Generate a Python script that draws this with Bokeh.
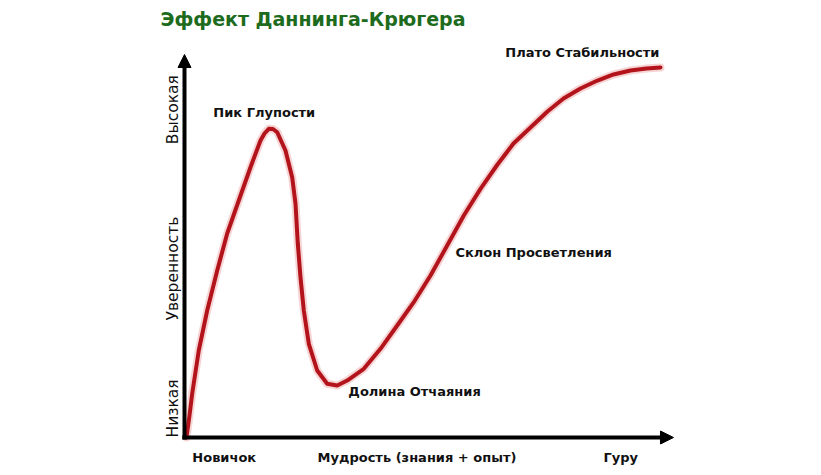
from math import pi
from bokeh.plotting import figure
from bokeh.models import Range1d, Arrow, NormalHead
from bokeh.core.properties import value
from bokeh.embed import file_html
from bokeh.resources import INLINE

# Curve: wisdom (x, 0-100 along axis) vs confidence (y, 0-100 along axis)
wisdom = [0.4, 1.02, 1.57, 2.92, 4.64, 6.69, 8.73, 11.10, 13.50, 15.54, 16.36, 17.24,
          18.10, 18.96, 20.65, 22.02, 22.70, 23.17, 23.72, 24.40, 25.42, 27.14, 29.18,
          31.23, 33.27, 36.67, 40.08, 43.50, 46.89, 50.31, 53.72, 57.12, 60.53, 64.01,
          67.28, 70.76, 74.23, 77.51, 80.98, 84.46, 87.73, 91.21, 94.48, 97.34]
confidence = [0.0, 5.74, 11.41, 22.72, 33.16, 43.60, 53.26, 61.88, 70.57, 77.55, 79.37, 80.60,
              80.55, 79.71, 74.93, 67.96, 61.10, 50.65, 41.85, 33.16, 24.46, 17.49, 14.02,
              13.58, 14.88, 17.94, 23.16, 29.24, 35.33, 42.30, 50.13, 57.96, 64.93, 71.28,
              76.76, 80.94, 85.12, 88.51, 91.12, 93.21, 94.78, 95.82, 96.34, 96.61]

stage_labels = ["Пик Глупости", "Долина Отчаяния", "Склон Просветления", "Плато Стабильности"]
stage_x = [5.9, 33.5, 55.4, 65.6]
stage_y = [84.9, 12.0, 48.3, 100.5]

x_labels = ["Новичок", "Мудрость (знания + опыт)", "Гуру"]
x_label_x = [1.6, 27.2, 85.7]
x_label_y = [-5.2, -5.2, -5.2]

y_labels = ["Низкая", "Уверенность", "Высокая"]
y_label_x = [-2.45, -2.45, -2.45]
y_label_y = [7.6, 44.1, 85.6]

title_text = ["Эффект Даннинга-Крюгера"]
title_x = [-4.9]
title_y = [109.4]

p = figure(width=805, height=467,
           x_range=Range1d(-37.63, 127.0), y_range=Range1d(-7.83, 114.10),
           output_backend="svg", toolbar_location=None,
           x_axis_type=None, y_axis_type=None, min_border=0)
p.outline_line_color = None
p.background_fill_color = "white"
p.border_fill_color = "white"

# axes as arrows
p.add_layout(Arrow(end=NormalHead(size=13, fill_color="black", line_color="black", line_width=1),
                   x_start=-0.45, y_start=0, x_end=100, y_end=0,
                   line_width=4, line_color="black"))
p.add_layout(Arrow(end=NormalHead(size=13, fill_color="black", line_color="black", line_width=1),
                   x_start=0, y_start=-0.5, x_end=0, y_end=100,
                   line_width=4, line_color="black"))

# curve with soft halo
p.line(wisdom, confidence, line_width=8, line_color="#e07070", line_alpha=0.3,
       line_join="round", line_cap="round")
p.line(wisdom, confidence, line_width=4, line_color="#b3141c",
       line_join="round", line_cap="round")

# stage labels
p.text(x=stage_x, y=stage_y, text=stage_labels, text_font=value("DejaVu Sans"),
       text_font_style="bold", text_font_size="13px", text_color="#111111",
       text_align="left", text_baseline="middle")

# x-axis labels
p.text(x=x_label_x, y=x_label_y, text=x_labels, text_font=value("DejaVu Sans"),
       text_font_style="bold", text_font_size="13px", text_color="#111111",
       text_align="left", text_baseline="middle")

# y-axis labels
p.text(x=y_label_x, y=y_label_y, text=y_labels, text_font=value("DejaVu Sans"),
       text_font_size="15.5px", text_color="#111111", angle=pi / 2,
       text_align="center", text_baseline="middle")

# title
p.text(x=title_x, y=title_y, text=title_text, text_font=value("DejaVu Sans"),
       text_font_style="bold", text_font_size="19px", text_color="#1d6b1d",
       text_align="left", text_baseline="middle")

open("out.html", "w").write(file_html(p, INLINE))
